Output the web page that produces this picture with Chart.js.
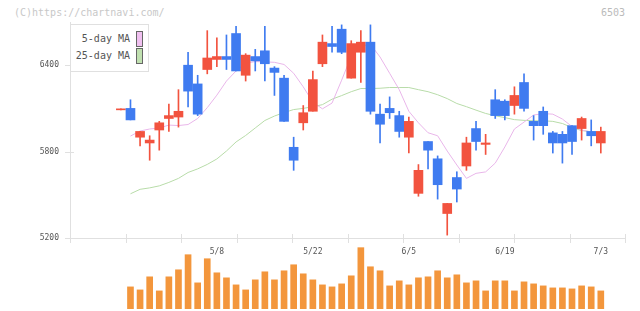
<!DOCTYPE html>
<html>
<head>
<meta charset="utf-8">
<script src="https://cdn.jsdelivr.net/npm/chart.js@4.4.0/dist/chart.umd.min.js"></script>
<style>
  body { margin: 0; background: #fff; }
  #wrap { position: relative; width: 640px; height: 311px; font-family: "DejaVu Sans Mono", monospace; }
  canvas { position: absolute; left: 0; }
  .copy { position: absolute; left: 14px; top: 7px; font-size: 10px; line-height: 12px; color: #c8c8c8; }
  .code { position: absolute; right: 15px; top: 7px; font-size: 10px; line-height: 12px; color: #bbb; }
  #legend { position: absolute; left: 70px; top: 24px; width: 79px; height: 48px; box-sizing: border-box;
            border: 1px solid #e0e0e0; background: #fff; font-size: 10px; color: #555; }
  #legend .row { position: absolute; right: 5px; height: 16px; line-height: 16px; white-space: nowrap; }
  #legend i { display: inline-block; width: 5px; height: 14px; border: 1px solid #666; vertical-align: top; margin-left: 6px; }
</style>
</head>
<body>
<div id="wrap">
  <div class="copy">(C)https://chartnavi.com/</div>
  <div class="code">6503</div>
  <canvas id="price" width="640" height="311" style="top:0"></canvas>
  <canvas id="volume" width="640" height="81" style="top:230px"></canvas>
  <div id="legend">
    <div class="row" style="top:6px"><span>5-day MA</span><i style="background:#f0c0f0"></i></div>
    <div class="row" style="top:23px"><span>25-day MA</span><i style="background:#c0e0b0"></i></div>
  </div>
</div>
<script>
const dates = ['4/19', '4/20', '4/21', '4/24', '4/25', '4/26', '4/27', '4/28', '5/1', '5/2',
  '5/8', '5/9', '5/10', '5/11', '5/12', '5/15', '5/16', '5/17', '5/18', '5/19',
  '5/22', '5/23', '5/24', '5/25', '5/26', '5/29', '5/30', '5/31', '6/1', '6/2',
  '6/5', '6/6', '6/7', '6/8', '6/9', '6/12', '6/13', '6/14', '6/15', '6/16',
  '6/19', '6/20', '6/21', '6/22', '6/23', '6/26', '6/27', '6/28', '6/29', '6/30', '7/3'];
const tickDates = ['5/8', '5/22', '6/5', '6/19', '7/3'];

const opens = [6090, 6100, 5900, 5860, 5950, 6030, 6040, 6400, 6270, 6370, 6440, 6460, 6620, 6330, 6460, 6500, 6380,
  6310, 5830, 6000, 6080, 6410, 6550, 6650, 6310, 6490, 6560, 6060, 6100, 6050, 5900, 5510, 5870, 5750, 5370, 5620,
  5700, 5960, 5850, 6160, 6150, 6120, 6280, 6010, 6080, 5930, 5920, 5980, 5960, 5940, 5860];
const highs = [6090, 6160, 5940, 5910, 6010, 6130, 6230, 6490, 6330, 6640, 6590, 6610, 6670, 6480, 6510, 6670, 6390,
  6330, 5900, 6120, 6360, 6610, 6670, 6680, 6570, 6640, 6680, 6130, 6180, 6080, 6040, 5710, 5870, 5770, 5440, 5660,
  5900, 6010, 5920, 6230, 6160, 6250, 6340, 6050, 6110, 5940, 5940, 5980, 6040, 6020, 5970];
const lows = [6090, 6020, 5840, 5740, 5810, 5940, 5970, 6110, 6050, 6340, 6390, 6370, 6360, 6290, 6360, 6290, 6190,
  6010, 5670, 5950, 6080, 6390, 6490, 6480, 6310, 6280, 6060, 5860, 6030, 5900, 5790, 5490, 5680, 5470, 5220, 5450,
  5670, 5810, 5780, 6030, 6020, 6060, 6080, 5880, 5920, 5790, 5720, 5780, 5880, 5840, 5790];
const closes = [6090, 6020, 5940, 5880, 6000, 6050, 6080, 6220, 6060, 6450, 6460, 6440, 6360, 6470, 6430, 6410, 6350,
  6010, 5740, 6070, 6300, 6560, 6530, 6490, 6550, 6560, 6080, 5990, 6070, 5940, 6010, 5670, 5810, 5570, 5440, 5540,
  5860, 5870, 5860, 6050, 6050, 6190, 6100, 5980, 5980, 5860, 5860, 5870, 6030, 5910, 5940];

const ma5 = [null, 5908, 5943, 5957, 5964, 5984, 5981, 5988, 6030, 6105, 6192, 6290, 6360, 6415, 6425, 6423, 6420,
  6405, 6344, 6250, 6143, 6097, 6137, 6296, 6462, 6531, 6545, 6457, 6344, 6230, 6080, 6000, 5931, 5910, 5804, 5707,
  5614, 5649, 5659, 5720, 5832, 5957, 6005, 6054, 6064, 6060, 6026, 5974, 5950, 5936, 5930];
const ma25 = [null, 5507, 5538, 5548, 5562, 5586, 5614, 5655, 5680, 5711, 5749, 5804, 5867, 5912, 5964, 6016, 6047,
  6071, 6092, 6100, 6112, 6126, 6164, 6189, 6216, 6238, 6238, 6240, 6245, 6245, 6245, 6230, 6216, 6195, 6168, 6134,
  6112, 6088, 6065, 6049, 6036, 6022, 6017, 6014, 6014, 6010, 5995, 5967, 5946, 5938, 5936];

// volume, thousand shares
const volumes = [null, 1320, 1140, 1920, 1080, 1920, 2340, 3240, 1560, 3000, 2160, 1860, 1440, 1140, 1740, 2220, 1740,
  2280, 2640, 2100, 1740, 1440, 1320, 1500, 1980, 3660, 2520, 2280, 1380, 1680, 1440, 1860, 1920, 2280, 1860, 2040,
  1560, 1680, 1080, 1680, 1680, 1080, 1620, 1500, 1380, 1260, 1260, 1200, 1380, 1320, 1080];

const yTicks = [5200, 5800, 6400];

const RED = '#f2533f';
const BLUE = '#3f7bf0';
const ORANGE = '#f3963c';
const AXIS = '#e0e0e0';
const FONT = '"DejaVu Sans Mono", monospace';
const X_MIN = -5.3;
const X_MAX = 52.52;

const idx = dates.map((d, i) => i);
const candleColor = ctx => closes[ctx.dataIndex] >= opens[ctx.dataIndex] ? RED : BLUE;

// short tick marks crossing both axes
const axisTicks = {
  id: 'axisTicks',
  afterDraw(chart) {
    const { ctx, chartArea: a, scales: { x, y } } = chart;
    ctx.save();
    ctx.strokeStyle = AXIS;
    ctx.lineWidth = 1;
    ctx.beginPath();
    for (let j = 0; j <= 10; j++) {
      const px = Math.round(x.getPixelForValue(x.min + (x.max - x.min) * j / 10)) + 0.5;
      ctx.moveTo(px, a.bottom - 4);
      ctx.lineTo(px, a.bottom + 5);
    }
    y.ticks.forEach(t => {
      const py = Math.round(y.getPixelForValue(t.value)) + 0.5;
      ctx.moveTo(a.left - 5, py);
      ctx.lineTo(a.left + 4, py);
    });
    ctx.stroke();
    ctx.restore();
  }
};

new Chart(document.getElementById('price'), {
  type: 'bar',
  data: {
    datasets: [
      {
        label: 'body',
        data: idx.map(i => ({ x: i, y: [opens[i], closes[i]] })),
        backgroundColor: candleColor,
        barThickness: 9,
        minBarLength: 1,
        grouped: false,
        order: 0,
      },
      {
        label: 'wick',
        data: idx.map(i => ({ x: i, y: [lows[i], highs[i]] })),
        backgroundColor: candleColor,
        barThickness: 1,
        minBarLength: 1,
        grouped: false,
        order: 1,
      },
      {
        type: 'line',
        label: '5-day MA',
        data: idx.map(i => ({ x: i, y: ma5[i] })),
        borderColor: '#e9b6ea',
        borderWidth: 1,
        pointRadius: 0,
        order: 2,
      },
      {
        type: 'line',
        label: '25-day MA',
        data: idx.map(i => ({ x: i, y: ma25[i] })),
        borderColor: '#b8dca9',
        borderWidth: 1,
        pointRadius: 0,
        order: 3,
      },
    ],
  },
  options: {
    responsive: false,
    animation: false,
    layout: { padding: { top: 22, right: 15, left: 0, bottom: 0 } },
    plugins: { legend: { display: false }, tooltip: { enabled: false } },
    scales: {
      x: {
        type: 'linear',
        offset: false,
        min: X_MIN,
        max: X_MAX,
        grid: { display: false, drawTicks: false },
        border: { color: AXIS },
        afterFit: s => { s.height = 73; },
        afterBuildTicks: s => { s.ticks = tickDates.map(d => ({ value: dates.indexOf(d) })); },
        ticks: {
          autoSkip: false,
          maxRotation: 0,
          padding: 9,
          color: '#555',
          font: { family: FONT, size: 8 },
          callback: v => dates[v],
        },
      },
      y: {
        min: 5200,
        max: 6700,
        grid: { display: false, drawTicks: false },
        border: { color: AXIS },
        afterFit: s => { s.width = 70; },
        afterBuildTicks: s => { s.ticks = yTicks.map(v => ({ value: v })); },
        ticks: {
          padding: 11,
          color: '#555',
          font: { family: FONT, size: 8 },
          callback: v => String(v),
        },
      },
    },
  },
  plugins: [axisTicks],
});

new Chart(document.getElementById('volume'), {
  type: 'bar',
  data: {
    datasets: [{
      label: 'volume',
      data: idx.map(i => ({ x: i, y: volumes[i] })),
      backgroundColor: ORANGE,
      barThickness: 6,
      grouped: false,
    }],
  },
  options: {
    responsive: false,
    animation: false,
    layout: { padding: { top: 17, right: 15, left: 70, bottom: 2 } },
    plugins: { legend: { display: false }, tooltip: { enabled: false } },
    scales: {
      x: { type: 'linear', offset: false, display: false, min: X_MIN, max: X_MAX },
      y: { display: false, min: 0, max: 3700 },
    },
  },
});
</script>
</body>
</html>
